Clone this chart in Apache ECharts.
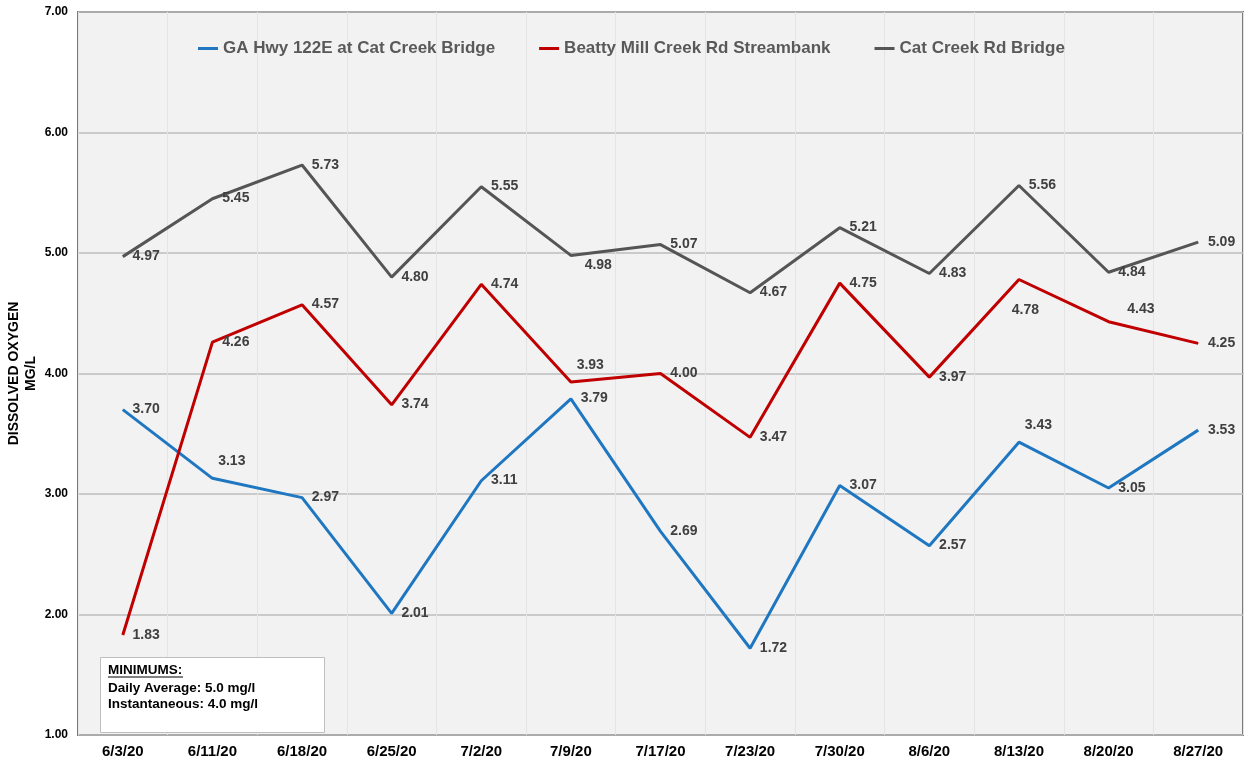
<!DOCTYPE html>
<html>
<head>
<meta charset="utf-8">
<title>Dissolved Oxygen</title>
<script src="https://cdn.jsdelivr.net/npm/echarts@6/dist/echarts.min.js"></script>
<style>
    html, body { margin: 0; padding: 0; background: #fff; }
    #chart { width: 1244px; height: 766px; }
</style>
</head>
<body>
<div id="chart"></div>
<script>
var dates = ['6/3/20', '6/11/20', '6/18/20', '6/25/20', '7/2/20', '7/9/20', '7/17/20', '7/23/20', '7/30/20', '8/6/20', '8/13/20', '8/20/20', '8/27/20'];

var gaHwy = [3.70, 3.13, 2.97, 2.01, 3.11, 3.79, 2.69, 1.72, 3.07, 2.57, 3.43, 3.05, 3.53];
var beattyMill = [1.83, 4.26, 4.57, 3.74, 4.74, 3.93, 4.00, 3.47, 4.75, 3.97, 4.78, 4.43, 4.25];
var catCreek = [4.97, 5.45, 5.73, 4.80, 5.55, 4.98, 5.07, 4.67, 5.21, 4.83, 5.56, 4.84, 5.09];

var seriesNames = ['GA Hwy 122E at Cat Creek Bridge', 'Beatty Mill Creek Rd Streambank', 'Cat Creek Rd Bridge'];
var yTicks = [1, 2, 3, 4, 5, 6, 7];

// where each value label sits: r = right, t = above, u = above-right, b = below, d = right and a bit lower
var gaLabelPos = ['r', 't', 'r', 'r', 'r', 'r', 'r', 'r', 'r', 'r', 't', 'r', 'r'];
var beattyLabelPos = ['r', 'r', 'r', 'r', 'r', 't', 'r', 'r', 'r', 'r', 'b', 'u', 'r'];
var catLabelPos = ['r', 'r', 'r', 'r', 'r', 'd', 'r', 'r', 'r', 'r', 'r', 'r', 'r'];

var color = ['#1f77c1', '#c00000', '#555555'];

// pixel nudges from the point to the left/middle of the label
var labelNudge = {
    r: [10, 0],
    t: [6, -17],
    u: [19, -12],
    b: [-7, 31],
    d: [14, 10]
};

function buildData(values, places) {
    return values.map(function (v, i) {
        return {
            value: v,
            label: {
                position: labelNudge[places[i]],
                align: 'left',
                verticalAlign: 'middle',
                fontWeight: 'bold'
            }
        };
    });
}

function makeSeries(name, values, places, i) {
    return {
        name: name,
        type: 'line',
        data: buildData(values, places),
        showSymbol: true,
        symbol: 'circle',
        symbolSize: 0.5,
        lineStyle: { width: 3, color: color[i] },
        itemStyle: { color: color[i] },
        label: {
            show: true,
            color: '#404040',
            fontWeight: 'bold',
            fontSize: 14,
            fontFamily: 'Liberation Sans, Arial, sans-serif',
            formatter: function (p) { return p.value.toFixed(2); }
        },
        z: 3
    };
}

var chart = echarts.init(document.getElementById('chart'));

var option = {
    animation: false,
    backgroundColor: '#ffffff',
    textStyle: { fontFamily: 'Liberation Sans, Arial, sans-serif' },
    color: color,
    grid: {
        left: 78,
        right: 1,
        top: 12,
        bottom: 31,
        containLabel: false,
        outerBoundsMode: 'none',
        show: true,
        backgroundColor: '#f2f2f2',
        borderColor: '#7a7a7a',
        borderWidth: 2
    },
    legend: {
        top: 35,
        left: 193,
        itemGap: 44,
        itemWidth: 20,
        itemHeight: 3,
        icon: 'rect',
        data: seriesNames,
        textStyle: {
            color: '#595959',
            fontWeight: 'bold',
            fontSize: 17,
            fontFamily: 'Liberation Sans, Arial, sans-serif'
        }
    },
    xAxis: {
        type: 'category',
        data: dates,
        boundaryGap: true,
        axisLine: { show: false },
        axisTick: { show: false },
        axisLabel: {
            margin: 9,
            color: '#000',
            fontWeight: 'bold',
            fontSize: 15,
            interval: 0
        },
        splitLine: {
            show: true,
            interval: 0,
            lineStyle: { color: '#e4e4e4', width: 1 }
        }
    },
    yAxis: {
        type: 'value',
        min: yTicks[0],
        max: yTicks[yTicks.length - 1],
        interval: 1,
        name: 'DISSOLVED OXYGEN\nMG/L',
        nameLocation: 'middle',
        nameGap: 38,
        nameMoveOverlap: false,
        nameTextStyle: {
            color: '#000',
            fontWeight: 'bold',
            fontSize: 14,
            lineHeight: 17
        },
        axisLine: { show: false },
        axisTick: { show: false },
        axisLabel: {
            margin: 10,
            color: '#000',
            fontWeight: 'bold',
            fontSize: 12,
            formatter: function (v) { return v.toFixed(2); }
        },
        splitLine: {
            lineStyle: { color: '#bcbcbc', width: 1.5 }
        }
    },
    series: [
        makeSeries(seriesNames[0], gaHwy, gaLabelPos, 0),
        makeSeries(seriesNames[1], beattyMill, beattyLabelPos, 1),
        makeSeries(seriesNames[2], catCreek, catLabelPos, 2)
    ],
    graphic: [
        {
            type: 'rect',
            left: 100,
            top: 657,
            shape: { width: 224, height: 75 },
            style: { fill: '#ffffff', stroke: '#bfbfbf', lineWidth: 1 },
            z: 10
        },
        {
            type: 'text',
            left: 108,
            top: 663,
            style: {
                text: 'MINIMUMS:',
                fill: '#000',
                font: 'bold 13.5px Liberation Sans, Arial, sans-serif'
            },
            z: 11
        },
        {
            type: 'line',
            shape: { x1: 108, y1: 677, x2: 183, y2: 677 },
            style: { stroke: '#000', lineWidth: 1 },
            z: 11
        },
        {
            type: 'text',
            left: 108,
            top: 680,
            style: {
                text: 'Daily Average: 5.0 mg/l\nInstantaneous: 4.0 mg/l',
                fill: '#000',
                lineHeight: 16,
                font: 'bold 13.5px Liberation Sans, Arial, sans-serif'
            },
            z: 11
        }
    ]
};

chart.setOption(option);
</script>
</body>
</html>
